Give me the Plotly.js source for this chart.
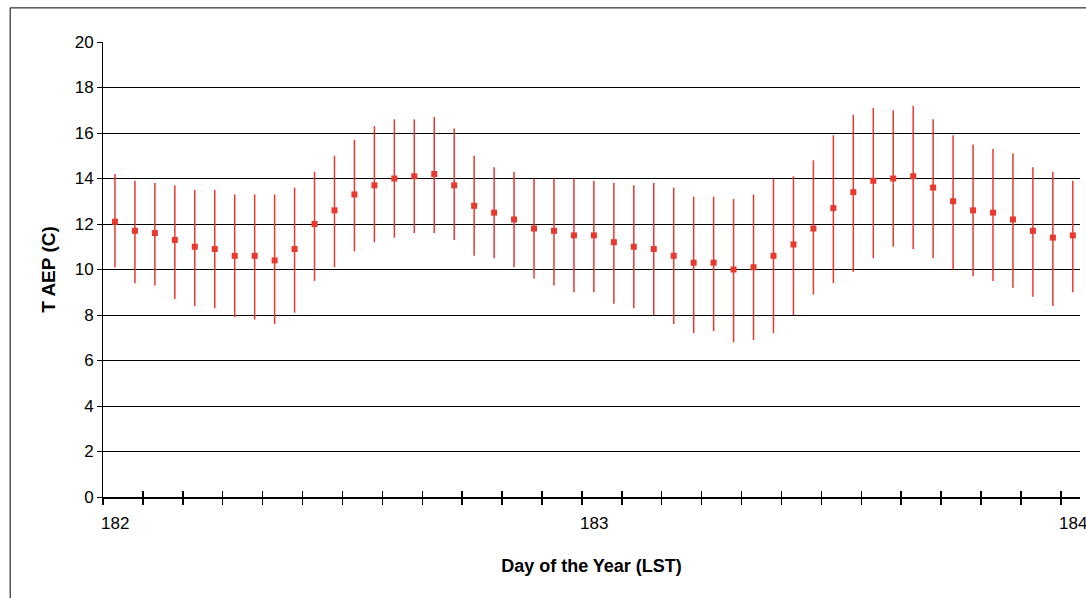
<!DOCTYPE html>
<html>
<head>
<meta charset="utf-8">
<script src="https://cdn.plot.ly/plotly-3.0.1.min.js"></script>
<style>html,body{margin:0;padding:0;background:#fff;}#chart{width:1086px;height:598px;}</style>
</head>
<body>
<div id="chart"></div>
<script>
const hoursFromStart = Array.from({ length: 49 }, (_, i) => i);
const tMean = [12.1, 11.7, 11.6, 11.3, 11.0, 10.9, 10.6, 10.6, 10.4, 10.9, 12.0, 12.6,
  13.3, 13.7, 14.0, 14.1, 14.2, 13.7, 12.8, 12.5, 12.2, 11.8, 11.7, 11.5,
  11.5, 11.2, 11.0, 10.9, 10.6, 10.3, 10.3, 10.0, 10.1, 10.6, 11.1, 11.8,
  12.7, 13.4, 13.9, 14.0, 14.1, 13.6, 13.0, 12.6, 12.5, 12.2, 11.7, 11.4, 11.5];
const tHigh = [14.2, 13.9, 13.8, 13.7, 13.5, 13.5, 13.3, 13.3, 13.3, 13.6, 14.3, 15.0,
  15.7, 16.3, 16.6, 16.6, 16.7, 16.2, 15.0, 14.5, 14.3, 14.0, 14.0, 14.0,
  13.9, 13.8, 13.7, 13.8, 13.6, 13.2, 13.2, 13.1, 13.3, 14.0, 14.1, 14.8,
  15.9, 16.8, 17.1, 17.0, 17.2, 16.6, 15.9, 15.5, 15.3, 15.1, 14.5, 14.3, 13.9];
const tLow = [10.1, 9.4, 9.3, 8.7, 8.4, 8.3, 7.9, 7.8, 7.6, 8.1, 9.5, 10.1,
  10.8, 11.2, 11.4, 11.6, 11.6, 11.3, 10.6, 10.5, 10.1, 9.6, 9.3, 9.0,
  9.0, 8.5, 8.3, 8.0, 7.6, 7.2, 7.3, 6.8, 6.9, 7.2, 8.0, 8.9,
  9.4, 9.9, 10.5, 11.0, 10.9, 10.5, 10.0, 9.7, 9.5, 9.2, 8.8, 8.4, 9.0];
const dayLabels = [182, 183, 184];

const days = hoursFromStart.map(h => 182 + h / 24);
const red = "#e8392f";
const x0 = 181.975;
const x1 = 184.015;

// tick marks every 2 hours starting at the axis origin
const tickVals = Array.from({ length: 25 }, (_, i) => x0 + i / 12);

const font = "Liberation Sans, Arial, sans-serif";

const trace = {
  x: days,
  y: tMean,
  mode: "markers",
  type: "scatter",
  marker: { symbol: "square", size: 6, color: red },
  error_y: {
    type: "data",
    symmetric: false,
    array: tHigh.map((h, i) => h - tMean[i]),
    arrayminus: tMean.map((m, i) => m - tLow[i]),
    color: red,
    thickness: 1.5,
    width: 0
  },
  showlegend: false
};

// invisible trace on an overlay axis just to draw the inside half of the ticks
const tickTrace = { x: [x0], y: [0], xaxis: "x2", mode: "markers", marker: { opacity: 0 }, showlegend: false, hoverinfo: "skip" };

const annotations = dayLabels.map(d => ({
  x: d, xref: "x", y: 0, yref: "paper",
  yshift: -38, text: String(d), showarrow: false,
  font: { size: 17, family: font, color: "#000" }
}));

const layout = {
  width: 1086, height: 598,
  margin: { l: 103, r: 6, t: 42, b: 101 },
  paper_bgcolor: "#fff", plot_bgcolor: "#fff",
  font: { family: font, color: "#000", size: 17 },
  xaxis: {
    range: [x0, x1],
    tickvals: tickVals, showticklabels: false,
    ticks: "outside", ticklen: 6, tickcolor: "#000", tickwidth: 1.5,
    showgrid: false, zeroline: false,
    showline: true, linecolor: "#000", linewidth: 1.5,
    title: { text: "<b>Day of the Year (LST)</b>", font: { size: 18 }, standoff: 56 }
  },
  xaxis2: {
    overlaying: "x", anchor: "y", side: "bottom",
    range: [x0, x1], tickvals: tickVals, showticklabels: false,
    ticks: "inside", ticklen: 6, tickcolor: "#000", tickwidth: 1.5,
    showgrid: false, zeroline: false, showline: false
  },
  yaxis: {
    range: [0, 20], dtick: 2,
    ticks: "outside", ticklen: 5, tickcolor: "#000",
    showgrid: true, gridcolor: "#000", gridwidth: 1,
    zeroline: false, showline: true, linecolor: "#000",
    title: { text: "<b>T AEP (C)</b>", font: { size: 19 }, standoff: 14 }
  },
  annotations: annotations,
  shapes: [{
    type: "rect", xref: "paper", yref: "paper",
    x0: -0.095, x1: 1.01, y0: -0.25, y1: 1.075,
    line: { color: "#000", width: 1 }
  }]
};

Plotly.newPlot("chart", [trace, tickTrace], layout, { displayModeBar: false, staticPlot: true });
</script>
</body>
</html>
